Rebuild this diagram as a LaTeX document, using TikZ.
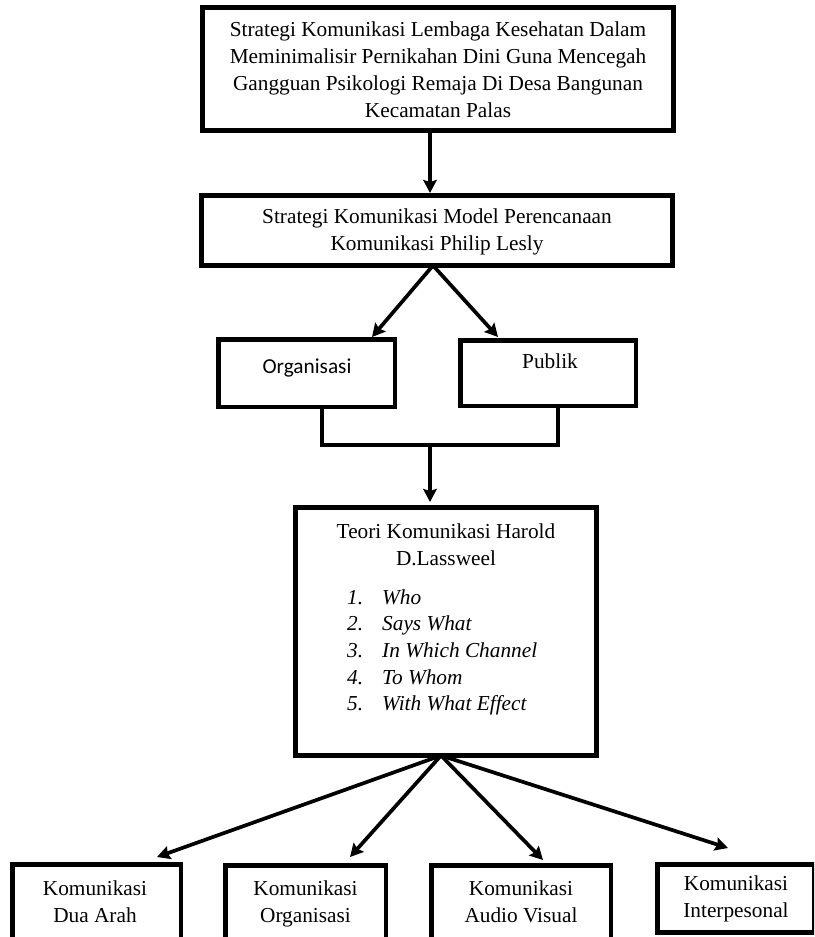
\documentclass[tikz,border=0pt]{standalone}
\usepackage{fontspec}
\setmainfont{Liberation Serif}
\newfontfamily\calibrifont{Carlito}
\usetikzlibrary{arrows.meta}
\begin{document}
\begin{tikzpicture}[x=1pt,y=-1pt,
  box/.style={draw=black, line width=5pt, inner sep=0pt, outer sep=0pt},
  thinbox/.style={box, line width=4.5pt},
  txt/.style={font=\fontsize{21.3}{27}\selectfont, align=center, inner sep=0pt},
  sanstxt/.style={font=\calibrifont\fontsize{21.3}{27}\selectfont, inner sep=0pt},
  itemtxt/.style={font=\itshape\fontsize{21.3}{27}\selectfont, inner sep=0pt, anchor=base west},
  arr/.style={line width=3.7pt, -{Stealth[length=13pt,width=13.5pt,inset=2pt]}},
  joinline/.style={line width=4pt}
]
\useasboundingbox (0,0) rectangle (814,937);
\clip (0,0) rectangle (814,937);

% top box
\node[box, minimum width=471pt, minimum height=123pt] (top) at (438,69) {};
\node[txt] (toptext) at (438,70) {Strategi Komunikasi Lembaga Kesehatan Dalam\\Meminimalisir Pernikahan Dini Guna Mencegah\\Gangguan Psikologi Remaja Di Desa Bangunan\\Kecamatan Palas};

% second box
\node[box, minimum width=471pt, minimum height=70pt] (mid) at (437,230.5) {};
\node[txt] (midtext) at (437,232) {Strategi Komunikasi Model Perencanaan\\Komunikasi Philip Lesly};

% organisasi / publik
\node[thinbox, minimum width=176.5pt, minimum height=67.5pt] (org) at (306.5,373) {};
\node[sanstxt, anchor=base] (orgtext) at (307,373) {Organisasi};
\node[thinbox, minimum width=175.5pt, minimum height=65.5pt] (pub) at (548,373) {};
\node[txt, anchor=base] (pubtext) at (550,368) {Publik};

% lassweel box
\node[box, minimum width=301pt, minimum height=248pt] (las) at (446,631.5) {};
\node[txt] (lastext) at (446,545) {Teori Komunikasi Harold\\D.Lassweel};
\foreach \n/\t in {1/Who,2/Says What,3/In Which Channel,4/To Whom,5/With What Effect}{
  \node[itemtxt] (num\n) at (347,{604+26.7*(\n-1)}) {\n.};
  \node[itemtxt] (item\n) at (382,{604+26.7*(\n-1)}) {\t};
}

% bottom boxes
\node[thinbox, minimum width=168.5pt, minimum height=83.5pt] (dua) at (96.5,906) {};
\node[txt] (duatext) at (95,903.1) {\strut Komunikasi\\\strut Dua Arah};
\node[thinbox, minimum width=160.5pt, minimum height=82.5pt] (org2) at (305.5,906.5) {};
\node[txt] (org2text) at (305.5,903.1) {\strut Komunikasi\\\strut Organisasi};
\node[thinbox, minimum width=179.5pt, minimum height=82.5pt] (aud) at (521,906.5) {};
\node[txt] (audtext) at (521,903.1) {\strut Komunikasi\\\strut Audio Visual};
\node[box, minimum width=157pt, minimum height=68pt] (inter) at (736,898.5) {};
\node[txt] (intertext) at (736,898.6) {\strut Komunikasi\\\strut Interpesonal};

% connectors
\draw[arr] ([xshift=-8pt]top.south) -- ([xshift=-7pt,yshift=2.5pt]mid.north);
\draw[arr] ([xshift=-4pt]mid.south) -- ([xshift=65.5pt,yshift=2.25pt]org.north);
\draw[arr] ([xshift=-4pt]mid.south) -- ([xshift=-50pt,yshift=3.25pt]pub.north);

\coordinate (j) at (430,445);
\draw[joinline] ([xshift=15.5pt]org.south) |- (j) -| ([xshift=10pt]pub.south);
\draw[arr] (j) -- ([xshift=-16pt,yshift=5.5pt]las.north);

\draw[arr] ([xshift=-5pt]las.south) -- ([xshift=60.5pt,yshift=7.25pt]dua.north);
\draw[arr] ([xshift=-5pt]las.south) -- ([xshift=44.5pt,yshift=8.25pt]org2.north);
\draw[arr] ([xshift=-5pt]las.south) -- ([xshift=22pt,yshift=5.25pt]aud.north);
\draw[arr] ([xshift=-5pt]las.south) -- ([xshift=-8pt,yshift=16.5pt]inter.north);
\end{tikzpicture}
\end{document}
